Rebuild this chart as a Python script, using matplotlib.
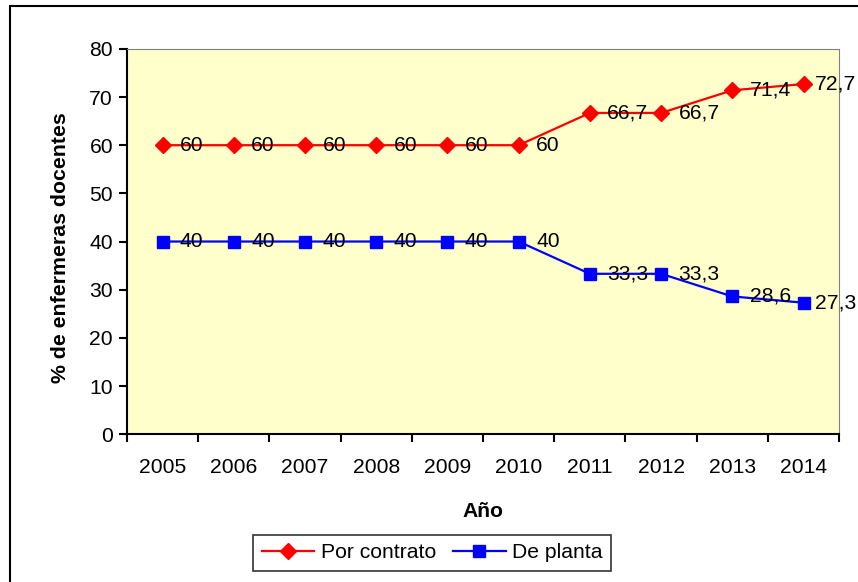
import matplotlib.pyplot as plt
from matplotlib.patches import Rectangle

# data
years = ["2005", "2006", "2007", "2008", "2009", "2010", "2011", "2012", "2013", "2014"]
por_contrato = [60, 60, 60, 60, 60, 60, 66.7, 66.7, 71.4, 72.7]
de_planta = [40, 40, 40, 40, 40, 40, 33.3, 33.3, 28.6, 27.3]

plt.rcParams['font.family'] = ['Liberation Sans', 'DejaVu Sans']
FS = 15.2

fig = plt.figure(figsize=(8.58, 5.82), dpi=100)
ax = fig.add_axes([0.148, 0.254, 0.830, 0.662])
ax.set_facecolor("#FFFFCC")

# outer chart frame
fig.patches.append(Rectangle((10 / 858, -0.01), 1.0, 1 - 6 / 582 + 0.01,
                             transform=fig.transFigure, fill=False,
                             edgecolor="black", linewidth=1.5))

x = list(range(len(years)))
ax.plot(x, por_contrato, color="red", marker="D", markersize=8.5, linewidth=1.6,
        label="Por contrato")
ax.plot(x, de_planta, color="blue", marker="s", markersize=8, linewidth=1.6,
        label="De planta")

def fmt(v):
    return (str(int(v)) if v == int(v) else str(v)).replace(".", ",")

# labels to the right of the points, last one pulled in to fit
for series in (por_contrato, de_planta):
    for xi, v in zip(x, series):
        off = 8.5 if xi == x[-1] else 12.5
        ax.annotate(fmt(v), (xi, v), xytext=(off, 0), textcoords="offset points",
                    va="center", ha="left", fontsize=FS)

ax.set_xlim(-0.5, len(years) - 0.5)
ax.set_ylim(0, 80)
ax.set_yticks(range(0, 81, 10))
ax.set_xticks([i - 0.5 for i in range(len(years) + 1)], minor=False)
ax.set_xticklabels([])
ax.set_xticks(x, minor=True)
ax.set_xticklabels(years, minor=True)
ax.tick_params(axis="x", which="minor", length=0, pad=17, labelsize=FS)
ax.tick_params(axis="x", which="major", length=6, width=1.5, direction="out")
ax.tick_params(axis="y", length=6, width=1.5, labelsize=FS, pad=4)

ax.spines["left"].set_linewidth(1.5)
ax.spines["bottom"].set_linewidth(1.5)
ax.spines["top"].set_color("#808080")
ax.spines["right"].set_color("#808080")

ax.set_xlabel("Año", fontsize=FS, fontweight="bold", labelpad=18)
ax.set_ylabel("% de enfermeras docentes", fontsize=15.3, fontweight="bold", labelpad=14)
ax.yaxis.label.set_y(0.484)

leg = fig.legend(loc="center", bbox_to_anchor=(432 / 858, 1 - 553 / 582), ncol=2,
                 fontsize=FS, frameon=True, fancybox=False, edgecolor="black",
                 handlelength=2.5, columnspacing=0.8, handletextpad=0.3,
                 borderpad=0.4)
leg.get_frame().set_linewidth(1.2)

plt.savefig("out.png", dpi=100)
